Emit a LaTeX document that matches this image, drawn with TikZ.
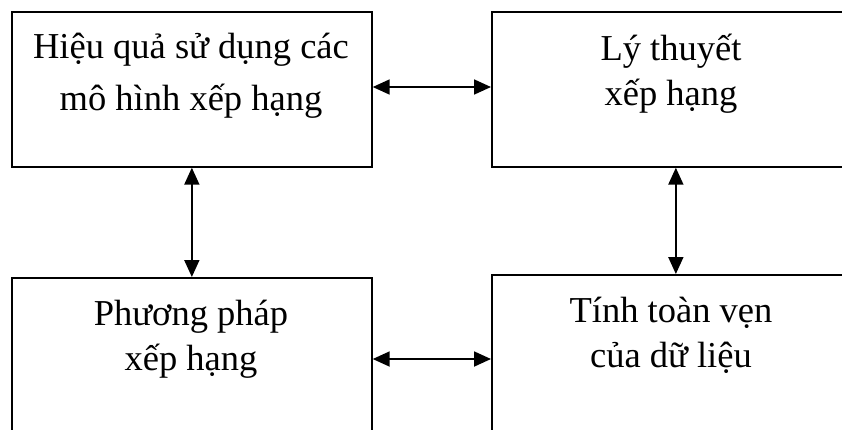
\documentclass[tikz,border=0pt]{standalone}
\usepackage{fontspec}
\setmainfont{Liberation Serif}
\usetikzlibrary{arrows.meta}
\begin{document}
\begin{tikzpicture}[x=1pt,y=-1pt,
  box/.style={draw,line width=1.7pt,rectangle,minimum width=360pt,minimum height=155pt,inner sep=0pt,anchor=north west},
  label/.style={font=\fontsize{36.5}{45}\selectfont,align=center,anchor=base,inner sep=0pt},
  arr/.style={line width=1.8pt,{Triangle[length=17pt,width=15pt]}-{Triangle[length=17pt,width=15pt]}}]
\useasboundingbox (0,0) rectangle (842,429);
\clip (0,0) rectangle (842,429);
\node[box] (TL) at (11,11) {};
\node[box] (TR) at (491,11) {};
\node[box,minimum height=170pt] (BL) at (11,277) {};
\node[box,minimum height=170pt] (BR) at (491,274) {};
\node[label,font=\fontsize{36.5}{52}\selectfont] (tTL) at (191,110) {Hiệu quả sử dụng các\\mô hình xếp hạng};
\node[label] (tTR) at (671,105) {Lý thuyết\\xếp hạng};
\node[label] (tBL) at (191,370) {Phương pháp\\xếp hạng};
\node[label] (tBR) at (671,367) {Tính toàn vẹn\\của dữ liệu};
\draw[arr] ([yshift=-76pt]TL.north east) -- ([yshift=-76pt]TR.north west);
\draw[arr] ([yshift=-82pt]BL.north east) -- ([yshift=-85pt]BR.north west);
\draw[arr] (TL.south) -- (BL.north);
\draw[arr] ([xshift=4pt]TR.south) -- ([xshift=4pt]BR.north);
\end{tikzpicture}
\end{document}
